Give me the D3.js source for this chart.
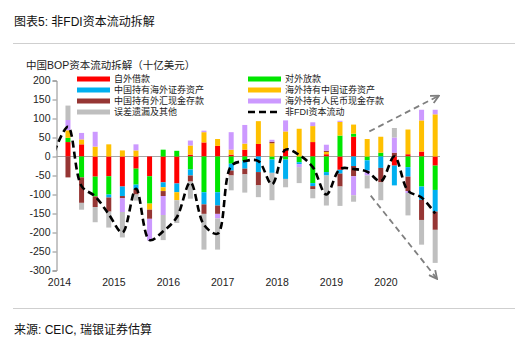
<!DOCTYPE html>
<html>
<head>
<meta charset="utf-8">
<script src="https://cdn.jsdelivr.net/npm/d3@7"></script>
<style>
  body { margin: 0; background: #fff; }
  svg { display: block; font-family: Arial, "Liberation Sans", "Noto Sans CJK SC", sans-serif; }
</style>
</head>
<body>
<svg id="chart" width="515" height="347"></svg>
<script>
// quarters 2014Q1 .. 2020Q4
const years = [2014, 2015, 2016, 2017, 2018, 2019, 2020];
const quarters = years.flatMap(y => ['Q1', 'Q2', 'Q3', 'Q4'].map(q => y + q));

const seriesNames = ['自外借款', '对外放款', '中国持有海外证券资产', '海外持有中国证券资产',
  '中国持有外汇现金存款', '海外持有人民币现金存款', '误差遗漏及其他'];
const seriesColors = ['#ff0000', '#00e600', '#00b0f0', '#ffc000', '#963634', '#cc99ff', '#bfbfbf'];

// 十亿美元
const borrowing    = [38, 32, -53, -52, -79, -32, -52, -68, -71, 5, 37, 28, 5, 18, 33, 0, 20, 0, 38, 6, -35, 52, 0, 0, -24, 6, 13, -24];
const lending      = [11, -55, -52, -48, 0, -42, -72, 18, 15, -34, -94, -94, -19, -12, 0, -8, -8, -15, -70, -41, 55, 8, -10, 10, 0, -28, -79, -64];
const cnForeignSec = [0, 0, 0, -8, -25, -12, 0, -13, -23, -16, -32, -35, -18, -20, -41, -35, -51, -5, -8, -9, -10, -25, -27, -30, -52, -25, -35, -57];
const fgnChinaSec  = [20, 13, 26, 32, 16, 16, -16, -10, -21, 24, 27, 18, 13, 16, 60, 35, 46, 73, 42, 6, 36, 24, 46, 42, 0, 65, 82, 111];
const cnFxDeposits = [-55, -67, -28, -37, -6, -14, -24, -13, 0, -16, -25, -22, -13, -15, -35, 4, 0, 0, -8, 3, -34, -27, 0, -38, 10, -38, -53, -48];
const fgnRmbDep    = [27, 17, 39, 0, -36, 16, -57, -50, 0, 13, 4, -12, 46, 49, 0, 5, 29, -8, 10, 16, 3, -50, -13, 0, 40, -5, 28, 12];
const errorsOther  = [38, -18, -40, -42, -67, -16, 0, -66, -60, -45, -94, -82, -39, -48, -31, -72, -22, -42, -24, -79, -51, -17, -34, -47, 25, -59, -65, -87];

// 非FDI资本流动 line, 2013Q4 .. 2020Q4
const lineName = '非FDI资本流动';
const lineQuarters = ['2013Q4', ...quarters];
const nonFdiFlow = [12, 78, -78, -105, -152, -200, -85, -220, -197, -160, -68, -180, -203, -25, -12, -12, -73, 18, 4, -28, -100, -33, -33, -40, -65, 0, -90, -108, -150];

const yTicks = [-300, -250, -200, -150, -100, -50, 0, 50, 100, 150, 200];

// trend arrows in (quarter index, value)
const arrows = [
  { from: [22.82, 66], to: [27.94, 160] },
  { from: [22.92, -103], to: [27.8, -322] }
];

const seriesData = [borrowing, lending, cnForeignSec, fgnChinaSec, cnFxDeposits, fgnRmbDep, errorsOther];
const table = quarters.map((q, i) => {
  const row = { q, i };
  seriesNames.forEach((n, k) => row[n] = seriesData[k][i]);
  return row;
});

const svg = d3.select('#chart');

const x = d3.scaleLinear().domain([0, 28]).range([59, 439.8]);
const barOffset = 0.66;
const y = d3.scaleLinear().domain([-300, 200]).range([270.5, 80.5]);
const barW = 5;

// header
svg.append('text').attr('x', 14).attr('y', 26).attr('font-size', 12).attr('fill', '#111')
  .text('图表5: 非FDI资本流动拆解');
svg.append('line').attr('x1', 13).attr('x2', 515).attr('y1', 43.5).attr('y2', 43.5)
  .attr('stroke', '#cfcfcf');
svg.append('line').attr('x1', 13).attr('x2', 515).attr('y1', 308.5).attr('y2', 308.5)
  .attr('stroke', '#cfcfcf');
svg.append('text').attr('x', 14).attr('y', 334).attr('font-size', 12).attr('fill', '#111')
  .text('来源: CEIC, 瑞银证券估算');

svg.append('text').attr('x', 26).attr('y', 69).attr('font-size', 10.5).attr('fill', '#222')
  .text('中国BOP资本流动拆解（十亿美元）');

// y axis
const yAxis = svg.append('g').attr('transform', 'translate(56.5,0)')
  .call(d3.axisLeft(y).tickValues(yTicks).tickSize(4).tickPadding(2).tickFormat(d => String(d)));
yAxis.selectAll('path,line').attr('stroke', '#8c8c8c');
yAxis.selectAll('text').attr('font-size', 10.5).attr('fill', '#222').attr('font-family', 'Arial, "Liberation Sans", sans-serif');

// x axis labels
const xAxis = svg.append('g').attr('transform', 'translate(0,279)')
  .call(d3.axisBottom(x).tickValues(years.map((yr, k) => k * 4)).tickSize(0).tickPadding(0)
    .tickFormat((d, k) => years[k]));
xAxis.select('.domain').remove();
xAxis.selectAll('text').attr('font-size', 10.5).attr('fill', '#222').attr('font-family', 'Arial, "Liberation Sans", sans-serif');

// zero line
svg.append('line').attr('x1', 56.5).attr('x2', 440).attr('y1', y(0)).attr('y2', y(0))
  .attr('stroke', '#a6a6a6').attr('stroke-width', 1);

// stacked bars
const stack = d3.stack().keys(seriesNames).offset(d3.stackOffsetDiverging)(table);
svg.append('g').selectAll('g').data(stack).join('g')
  .attr('fill', (d, k) => seriesColors[k])
  .selectAll('rect').data(d => d).join('rect')
  .attr('x', d => x(d.data.i + barOffset) - barW / 2)
  .attr('width', barW)
  .attr('y', d => y(Math.max(d[0], d[1])))
  .attr('height', d => Math.abs(y(d[0]) - y(d[1])));

// line
svg.append('clipPath').attr('id', 'plotClip').append('rect')
  .attr('x', 56.5).attr('y', 60).attr('width', 400).attr('height', 240);
const line = d3.line()
  .x((d, k) => x(k - 1 + barOffset))
  .y(d => y(d))
  .curve(d3.curveCatmullRom.alpha(0.5));
svg.append('path').datum(nonFdiFlow)
  .attr('clip-path', 'url(#plotClip)')
  .attr('d', line)
  .attr('fill', 'none').attr('stroke', '#000').attr('stroke-width', 2.6)
  .attr('stroke-dasharray', '7,4');

// arrows
svg.append('defs').append('marker').attr('id', 'arr')
  .attr('viewBox', '0 0 10 10').attr('refX', 9).attr('refY', 5)
  .attr('markerWidth', 10).attr('markerHeight', 10).attr('markerUnits', 'userSpaceOnUse')
  .attr('orient', 'auto')
  .append('path').attr('d', 'M1,1 L9,5 L1,9').attr('fill', 'none')
  .attr('stroke', '#7f7f7f').attr('stroke-width', 1.8);
svg.append('g').selectAll('line').data(arrows).join('line')
  .attr('x1', d => x(d.from[0])).attr('y1', d => y(d.from[1]))
  .attr('x2', d => x(d.to[0])).attr('y2', d => y(d.to[1]))
  .attr('stroke', '#7f7f7f').attr('stroke-width', 1.8).attr('stroke-dasharray', '6,4')
  .attr('marker-end', 'url(#arr)');

// legend
const legendItems = seriesNames.map((n, k) => ({ name: n, color: seriesColors[k], dashed: false }));
legendItems.push({ name: lineName, color: '#000', dashed: true });
const lg = svg.append('g').selectAll('g').data(legendItems).join('g')
  .attr('transform', (d, k) => `translate(${k % 2 ? 248 : 77},${79 + Math.floor(k / 2) * 11})`);
lg.filter(d => !d.dashed).append('rect')
  .attr('x', 0).attr('y', -2.5).attr('width', 33).attr('height', 5).attr('fill', d => d.color);
lg.filter(d => d.dashed).append('line')
  .attr('x1', 0).attr('x2', 33).attr('y1', 0).attr('y2', 0)
  .attr('stroke', '#000').attr('stroke-width', 2.6).attr('stroke-dasharray', '7,4');
lg.append('text').attr('x', 37).attr('y', 0).attr('dy', '0.35em')
  .attr('font-size', 9).attr('fill', '#222').text(d => d.name);
</script>
</body>
</html>
